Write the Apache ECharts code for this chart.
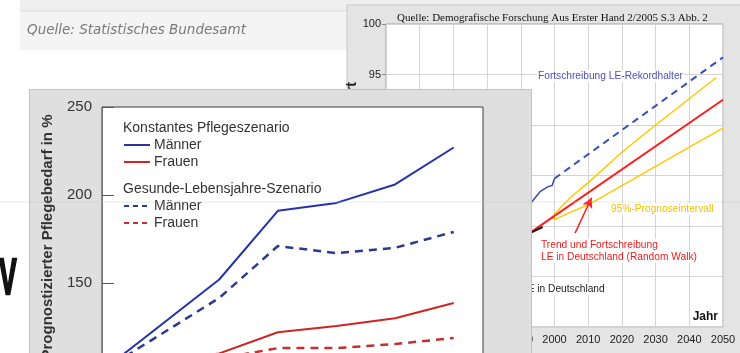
<!DOCTYPE html>
<html>
<head>
<meta charset="utf-8">
<script src="https://cdn.jsdelivr.net/npm/echarts@6/dist/echarts.min.js"></script>
<style>
  html, body { margin: 0; padding: 0; background: #ffffff; }
  #chart { width: 740px; height: 353px; }
</style>
</head>
<body>
<div id="chart"></div>
<script>
// ---- Lebenserwartung (hinteres Diagramm) ----
const leTitle = 'Quelle: Demografische Forschung Aus Erster Hand 2/2005 S.3 Abb. 2';
const rekordBeobachtet = [[1990, 81.9], [1993.3, 82.4], [1995.7, 83.4], [1998.1, 83.9], [1999.3, 84.0], [2000, 84.7]];
const rekordFortschreibung = [[2000, 84.7], [2050, 96.7]];
const deutschlandBeobachtet = [[1990, 78.7], [1993.3, 79.4], [1996.5, 79.9]];
const deutschlandTrend = [[1990, 78.7], [2050, 92.5]];
const intervallOben = [[1999, 80.8], [2002, 81.9], [2005, 82.9], [2010, 84.3], [2020, 87.3], [2030, 90.0], [2040, 92.6], [2048, 94.7]];
const intervallUnten = [[1999, 80.8], [2000.5, 80.7], [2005, 81.4], [2010, 82.1], [2020, 84.0], [2030, 85.9], [2040, 87.8], [2050, 89.7]];
const pfeilVon = [2006.1, 79.3];
const pfeilBis = [2011, 82.8];

// ---- Pflegebedarf (vorderes Diagramm) ----
const jahre = [2000, 2020, 2030, 2040, 2050, 2060];
const maennerKonstant = [100, 152, 191, 195.5, 206, 227];
const frauenKonstant = [100, 110, 122, 125.6, 130, 138.6];
const maennerGesund = [100, 141.5, 171, 167, 170, 179];
const frauenGesund = [100, 107, 113, 113, 115.3, 118.8];

const pair = (xs, ys) => xs.map((x, i) => [x, ys[i]]);

const sans = 'Liberation Sans, Arial, sans-serif';
const blueK = '#2434a8', redK = '#d02424', blueG = '#2a3a8e', redG = '#c43030';

const chart = echarts.init(document.getElementById('chart'), null, { renderer: 'canvas' });

const legendItems = [
  { type: 'text', x: 123, y: 128, style: { text: 'Konstantes Pflegeszenario', font: '14px ' + sans, fill: '#333', textVerticalAlign: 'middle' } },
  { type: 'line', shape: { x1: 124, y1: 145, x2: 150, y2: 145 }, style: { stroke: blueK, lineWidth: 2 } },
  { type: 'text', x: 154, y: 145, style: { text: 'Männer', font: '14px ' + sans, fill: '#333', textVerticalAlign: 'middle' } },
  { type: 'line', shape: { x1: 124, y1: 162, x2: 150, y2: 162 }, style: { stroke: redK, lineWidth: 2 } },
  { type: 'text', x: 154, y: 162, style: { text: 'Frauen', font: '14px ' + sans, fill: '#333', textVerticalAlign: 'middle' } },
  { type: 'text', x: 123, y: 189, style: { text: 'Gesunde-Lebensjahre-Szenario', font: '14px ' + sans, fill: '#333', textVerticalAlign: 'middle' } },
  { type: 'line', shape: { x1: 124, y1: 206, x2: 150, y2: 206 }, style: { stroke: blueG, lineWidth: 2, lineDash: [5, 4] } },
  { type: 'text', x: 154, y: 206, style: { text: 'Männer', font: '14px ' + sans, fill: '#333', textVerticalAlign: 'middle' } },
  { type: 'line', shape: { x1: 124, y1: 223, x2: 150, y2: 223 }, style: { stroke: redG, lineWidth: 2, lineDash: [5, 4] } },
  { type: 'text', x: 154, y: 223, style: { text: 'Frauen', font: '14px ' + sans, fill: '#333', textVerticalAlign: 'middle' } }
].map(e => Object.assign({ zlevel: 1, z: 20, silent: true }, e));

const labelFont = '10.2px ' + sans;
const backLabels = [
  { type: 'text', x: 537, y: 76, style: { text: 'Fortschreibung LE-Rekordhalter', font: labelFont, fill: '#4d4dc0', textVerticalAlign: 'middle', backgroundColor: '#fff', padding: [1, 1] } },
  { type: 'text', x: 610, y: 209, style: { text: '95%-Prognoseintervall', font: labelFont, fill: '#f2c200', textVerticalAlign: 'middle', backgroundColor: '#fff', padding: [1, 1] } },
  { type: 'text', x: 540, y: 245, style: { text: 'Trend und Fortschreibung', font: labelFont, fill: '#f01c1c', textVerticalAlign: 'middle', backgroundColor: '#fff', padding: [1, 1] } },
  { type: 'text', x: 540, y: 257, style: { text: 'LE in Deutschland (Random Walk)', font: labelFont, fill: '#f01c1c', textVerticalAlign: 'middle', backgroundColor: '#fff', padding: [1, 1] } },
  { type: 'text', x: 521, y: 289, style: { text: 'LE in Deutschland', font: labelFont, fill: '#222', textVerticalAlign: 'middle', backgroundColor: '#fff', padding: [1, 1] } },
  { type: 'text', x: 352, y: 82, rotation: Math.PI / 2, style: { text: 'Lebenserwartung bei Geburt', font: 'bold 14px ' + sans, fill: '#222', textAlign: 'right', textVerticalAlign: 'middle' } }
].map(e => Object.assign({ zlevel: 0, z: 20, silent: true }, e));

const pageItems = [
  // Seitenhintergrund mit Quellenzeile
  { type: 'rect', shape: { x: 20, y: 0, width: 720, height: 10 }, style: { fill: '#eeeeee' }, z: 0 },
  { type: 'rect', shape: { x: 20, y: 10, width: 720, height: 2 }, style: { fill: '#e6e6e6' }, z: 0 },
  { type: 'rect', shape: { x: 20, y: 12, width: 720, height: 38 }, style: { fill: '#f4f4f4' }, z: 0 },
  { type: 'text', x: 27, y: 30, style: { text: 'Quelle: Statistisches Bundesamt', font: 'italic 13.5px DejaVu Sans, Verdana, sans-serif', fill: '#7a7a7a', textVerticalAlign: 'middle' }, z: 1 },
  { type: 'text', x: 8, y: 280, scaleX: 0.52, style: { text: 'V', font: 'bold 50px ' + sans, fill: '#111', stroke: '#111', lineWidth: 2.5, textAlign: 'center', textVerticalAlign: 'middle' }, z: 1 },
  // Rahmen des hinteren Diagramms
  { type: 'rect', shape: { x: 347, y: 5, width: 400, height: 360 }, style: { fill: '#e4e4e4', stroke: '#c8c8c8', lineWidth: 1 }, z: 1 }
].map(e => Object.assign({ zlevel: 0, silent: true }, e));

const frontFrame = [
  { type: 'rect', shape: { x: 29.5, y: 89.5, width: 502, height: 300 }, style: { fill: '#dfdfdf', stroke: '#c2c2c2', lineWidth: 1 }, z: 0 },
  { type: 'text', x: 48, y: 237, rotation: Math.PI / 2, style: { text: 'Prognostizierter Pflegebedarf in %', font: 'bold 15px ' + sans, fill: '#333', textAlign: 'center', textVerticalAlign: 'middle' }, z: 5 }
].map(e => Object.assign({ zlevel: 1, silent: true }, e));

const haze = [
  { type: 'line', shape: { x1: 0, y1: 202, x2: 740, y2: 202 }, style: { stroke: 'rgba(185,190,215,0.35)', lineWidth: 1 }, zlevel: 2, z: 0, silent: true }
];

const lineBase = { type: 'line', showSymbol: false, symbol: 'none', silent: true, animation: false };
const plain = v => String(v);

chart.setOption({
  animation: false,
  title: {
    text: leTitle, left: 392, top: 8, zlevel: 0, z: 10,
    textStyle: { fontFamily: 'Liberation Serif, Times New Roman, serif', fontSize: 11, fontWeight: 'normal', color: '#111' }
  },
  graphic: { elements: pageItems.concat(backLabels, frontFrame, legendItems, haze) },
  grid: [
    { left: 386, top: 24, width: 337, height: 303, outerBoundsMode: 'none', containLabel: false, show: true, backgroundColor: '#fff', borderColor: '#a4a4a4', borderWidth: 1, zlevel: 0, z: 2 },
    { left: 102, top: 107, width: 381, height: 264, outerBoundsMode: 'none', containLabel: false, show: true, backgroundColor: '#fff', borderColor: '#3c3c3c', borderWidth: 1, zlevel: 1, z: 2 }
  ],
  xAxis: [
    {
      gridIndex: 0, type: 'value', min: 1950, max: 2050, interval: 10, zlevel: 0, z: 3,
      axisLine: { show: false }, axisTick: { show: false },
      axisLabel: { fontSize: 11, color: '#222', margin: 7, fontFamily: sans, formatter: plain },
      splitLine: { show: true, lineStyle: { color: '#d4d4d4', width: 1 } },
      name: 'Jahr', nameLocation: 'end', nameGap: -5,
      nameTextStyle: { fontFamily: sans, fontSize: 12, fontWeight: 'bold', color: '#111', align: 'right', verticalAlign: 'bottom', padding: [0, 0, 4, 0] }
    },
    {
      gridIndex: 1, type: 'value', min: 2000, max: 2065, zlevel: 1, z: 3,
      axisLine: { show: false }, axisTick: { show: false }, axisLabel: { show: false }, splitLine: { show: false }
    }
  ],
  yAxis: [
    {
      gridIndex: 0, type: 'value', min: 70, max: 100, interval: 5, zlevel: 0, z: 3,
      axisLine: { show: false },
      axisTick: { show: true, length: 4, lineStyle: { color: '#888' } },
      axisLabel: { fontSize: 11, color: '#222', margin: 5, fontFamily: sans, formatter: plain },
      splitLine: { show: true, lineStyle: { color: '#d4d4d4', width: 1 } }
    },
    {
      gridIndex: 1, type: 'value', min: 100, max: 250, interval: 50, zlevel: 1, z: 3,
      axisLine: { show: true, lineStyle: { color: '#777', width: 1 } },
      axisTick: { show: true, inside: true, length: 12, lineStyle: { color: '#555', width: 1 } },
      axisLabel: { fontSize: 15, color: '#333', margin: 10, fontFamily: sans, formatter: plain },
      splitLine: { show: false }
    }
  ],
  series: [
    Object.assign({}, lineBase, { name: 'Rekordhalter', xAxisIndex: 0, yAxisIndex: 0, zlevel: 0, z: 4, data: rekordBeobachtet, lineStyle: { color: '#3d4aa6', width: 1.5 } }),
    Object.assign({}, lineBase, { name: 'Fortschreibung LE-Rekordhalter', xAxisIndex: 0, yAxisIndex: 0, zlevel: 0, z: 4, data: rekordFortschreibung, lineStyle: { color: '#3652b8', width: 2, type: [7, 5] } }),
    Object.assign({}, lineBase, { name: '95%-Prognoseintervall oben', xAxisIndex: 0, yAxisIndex: 0, zlevel: 0, z: 4, data: intervallOben, lineStyle: { color: '#ffc800', width: 1.5 } }),
    Object.assign({}, lineBase, { name: '95%-Prognoseintervall unten', xAxisIndex: 0, yAxisIndex: 0, zlevel: 0, z: 4, data: intervallUnten, lineStyle: { color: '#ffc800', width: 1.5 } }),
    Object.assign({}, lineBase, {
      name: 'Trend und Fortschreibung', xAxisIndex: 0, yAxisIndex: 0, zlevel: 0, z: 5, data: deutschlandTrend, lineStyle: { color: '#ff1e1e', width: 2 },
      markLine: {
        silent: true, symbol: ['none', 'arrow'], symbolSize: [8, 10], label: { show: false },
        lineStyle: { color: '#ff1e1e', width: 1.5, type: 'solid' },
        data: [[{ coord: pfeilVon }, { coord: pfeilBis }]]
      }
    }),
    Object.assign({}, lineBase, { name: 'LE in Deutschland', xAxisIndex: 0, yAxisIndex: 0, zlevel: 0, z: 6, data: deutschlandBeobachtet, lineStyle: { color: '#1a1a1a', width: 2 } }),

    Object.assign({}, lineBase, { name: 'Männer (konstant)', xAxisIndex: 1, yAxisIndex: 1, zlevel: 1, z: 6, data: pair(jahre, maennerKonstant), lineStyle: { color: blueK, width: 2 } }),
    Object.assign({}, lineBase, { name: 'Frauen (konstant)', xAxisIndex: 1, yAxisIndex: 1, zlevel: 1, z: 6, data: pair(jahre, frauenKonstant), lineStyle: { color: redK, width: 2 } }),
    Object.assign({}, lineBase, { name: 'Männer (gesund)', xAxisIndex: 1, yAxisIndex: 1, zlevel: 1, z: 6, data: pair(jahre, maennerGesund), lineStyle: { color: blueG, width: 2.5, type: [8, 6] } }),
    Object.assign({}, lineBase, { name: 'Frauen (gesund)', xAxisIndex: 1, yAxisIndex: 1, zlevel: 1, z: 6, data: pair(jahre, frauenGesund), lineStyle: { color: redG, width: 2.5, type: [8, 6] } })
  ]
});
</script>
</body>
</html>
